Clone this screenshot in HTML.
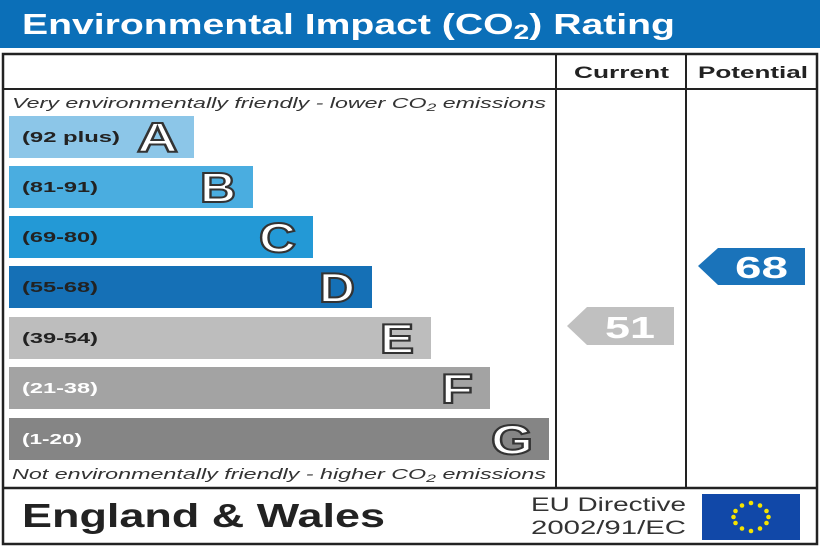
<!DOCTYPE html>
<html><head><meta charset="utf-8"><style>
html,body{margin:0;padding:0;background:#fff;}
svg{display:block;}
</style></head><body>
<svg width="820" height="547" viewBox="0 0 820 547" xmlns="http://www.w3.org/2000/svg" font-family="Liberation Sans, Arial, sans-serif">
<rect x="0" y="0" width="820" height="48" fill="#0b6fb8"/>
<text x="22" y="34" font-size="29" font-weight="bold" fill="#fff" textLength="653" lengthAdjust="spacingAndGlyphs">Environmental Impact (CO<tspan font-size="21" dy="5">2</tspan><tspan dy="-5">) Rating</tspan></text>
<rect x="3" y="54" width="814" height="490" fill="#fff" stroke="#222" stroke-width="2.5"/>
<line x1="3" y1="89" x2="817" y2="89" stroke="#222" stroke-width="2"/>
<line x1="556" y1="54" x2="556" y2="488" stroke="#222" stroke-width="2"/>
<line x1="686" y1="54" x2="686" y2="488" stroke="#222" stroke-width="2"/>
<line x1="3" y1="488" x2="817" y2="488" stroke="#222" stroke-width="2.5"/>
<text x="574" y="78" font-size="17" font-weight="bold" fill="#222" textLength="95" lengthAdjust="spacingAndGlyphs">Current</text>
<text x="698" y="78" font-size="17" font-weight="bold" fill="#222" textLength="110" lengthAdjust="spacingAndGlyphs">Potential</text>
<text x="12" y="108" font-size="14.5" font-style="italic" fill="#333" textLength="534" lengthAdjust="spacingAndGlyphs">Very environmentally friendly - lower CO<tspan font-size="11" dy="3">2</tspan><tspan dy="-3"> emissions</tspan></text>
<text x="12" y="479" font-size="14.5" font-style="italic" fill="#333" textLength="534" lengthAdjust="spacingAndGlyphs">Not environmentally friendly - higher CO<tspan font-size="11" dy="3">2</tspan><tspan dy="-3"> emissions</tspan></text>
<g font-weight="bold">
<rect x="9" y="116" width="185" height="42" fill="#8cc6e8"/>
<text x="22" y="142" font-size="15" fill="#222" textLength="98" lengthAdjust="spacingAndGlyphs">(92 plus)</text>
<text x="137" y="152" font-size="42" fill="#fff" stroke="#333" stroke-width="2" textLength="41" lengthAdjust="spacingAndGlyphs">A</text>
<rect x="9" y="166" width="244" height="42" fill="#4aade0"/>
<text x="22" y="192" font-size="15" fill="#222" textLength="76" lengthAdjust="spacingAndGlyphs">(81-91)</text>
<text x="200" y="202" font-size="42" fill="#fff" stroke="#333" stroke-width="2" textLength="36" lengthAdjust="spacingAndGlyphs">B</text>
<rect x="9" y="216" width="304" height="42" fill="#2399d6"/>
<text x="22" y="242" font-size="15" fill="#222" textLength="76" lengthAdjust="spacingAndGlyphs">(69-80)</text>
<text x="259" y="252" font-size="42" fill="#fff" stroke="#333" stroke-width="2" textLength="37" lengthAdjust="spacingAndGlyphs">C</text>
<rect x="9" y="266" width="363" height="42" fill="#1570b6"/>
<text x="22" y="292" font-size="15" fill="#222" textLength="76" lengthAdjust="spacingAndGlyphs">(55-68)</text>
<text x="319" y="302" font-size="42" fill="#fff" stroke="#333" stroke-width="2" textLength="36" lengthAdjust="spacingAndGlyphs">D</text>
<rect x="9" y="317" width="422" height="42" fill="#bdbdbd"/>
<text x="22" y="343" font-size="15" fill="#222" textLength="76" lengthAdjust="spacingAndGlyphs">(39-54)</text>
<text x="380" y="353" font-size="42" fill="#fff" stroke="#333" stroke-width="2" textLength="34" lengthAdjust="spacingAndGlyphs">E</text>
<rect x="9" y="367" width="481" height="42" fill="#a3a3a3"/>
<text x="22" y="393" font-size="15" fill="#fff" textLength="76" lengthAdjust="spacingAndGlyphs">(21-38)</text>
<text x="441" y="403" font-size="42" fill="#fff" stroke="#333" stroke-width="2" textLength="32" lengthAdjust="spacingAndGlyphs">F</text>
<rect x="9" y="418" width="540" height="42" fill="#858585"/>
<text x="22" y="444" font-size="15" fill="#fff" textLength="60" lengthAdjust="spacingAndGlyphs">(1-20)</text>
<text x="491" y="454" font-size="42" fill="#fff" stroke="#333" stroke-width="2" textLength="42" lengthAdjust="spacingAndGlyphs">G</text>
</g>
<polygon points="567,326 587,307 674,307 674,345 587,345" fill="#c0c0c0"/>
<text x="605" y="338" font-size="31" font-weight="bold" fill="#fff" textLength="50" lengthAdjust="spacingAndGlyphs">51</text>
<polygon points="698,266 718,248 805,248 805,285 718,285" fill="#1a73ba"/>
<text x="735" y="278" font-size="31" font-weight="bold" fill="#fff" textLength="53" lengthAdjust="spacingAndGlyphs">68</text>
<text x="22" y="527" font-size="33" font-weight="bold" fill="#222" textLength="363" lengthAdjust="spacingAndGlyphs">England &amp; Wales</text>
<text x="531" y="511" font-size="19" fill="#333" textLength="155" lengthAdjust="spacingAndGlyphs">EU Directive</text>
<text x="531" y="534" font-size="19" fill="#333" textLength="155" lengthAdjust="spacingAndGlyphs">2002/91/EC</text>
<rect x="702" y="494" width="98" height="46" fill="#1148a8"/>
<g fill="#f5e400">
<circle cx="751" cy="503" r="2.3"/><circle cx="760" cy="505.5" r="2.3"/><circle cx="766.5" cy="511" r="2.3"/><circle cx="768.5" cy="517" r="2.3"/><circle cx="766.5" cy="523" r="2.3"/><circle cx="760" cy="528.5" r="2.3"/><circle cx="751" cy="531" r="2.3"/><circle cx="742" cy="528.5" r="2.3"/><circle cx="735.5" cy="523" r="2.3"/><circle cx="733.5" cy="517" r="2.3"/><circle cx="735.5" cy="511" r="2.3"/><circle cx="742" cy="505.5" r="2.3"/>
</g>
</svg>
</body></html>
